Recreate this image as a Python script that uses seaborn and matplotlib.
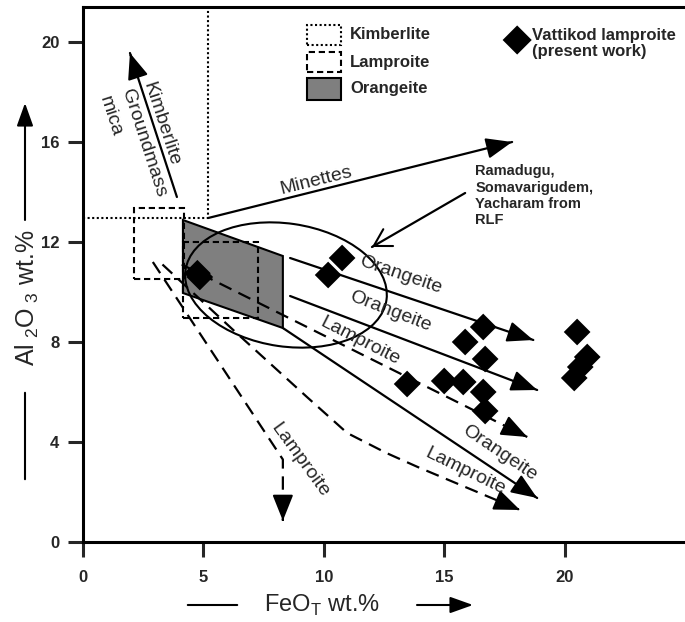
import matplotlib
matplotlib.use('Agg')
import matplotlib.pyplot as plt
from matplotlib.patches import Polygon, Rectangle, Ellipse
import seaborn as sns

sns.set_style('white')
plt.rcParams['font.family'] = ['Liberation Sans', 'DejaVu Sans']

# Vattikod lamproite samples (present work)
feo = [4.75, 4.85, 10.18, 10.76, 16.62, 15.87, 16.7, 13.46, 15.0, 15.79, 16.62, 16.7,
       20.52, 20.94, 20.65, 20.4]
al2o3 = [10.75, 10.6, 10.68, 11.36, 8.6, 8.0, 7.32, 6.32, 6.44, 6.4, 6.0, 5.24,
         8.4, 7.4, 7.0, 6.56]

# fields
orangeite_x = [4.15, 8.3, 8.3, 4.15]
orangeite_y = [12.88, 11.44, 8.56, 9.96]
lamp_box1 = [2.1, 4.2, 10.5, 13.35]   # xmin, xmax, ymin, ymax
lamp_box2 = [4.15, 7.27, 8.96, 12.0]
kimb_x = [0, 5.2, 5.2]
kimb_y = [12.96, 12.96, 21.4]
ellipse_xy = (8.43, 10.28)
ellipse_wh = (8.43, 4.92)

# trends
orang1_x, orang1_y = [8.6, 18.7], [11.36, 8.08]
orang2_x, orang2_y = [8.6, 18.86], [9.84, 6.08]
orang3_x, orang3_y = [8.3, 18.86], [8.56, 1.76]
lamp1_x, lamp1_y = [4.1, 18.45], [11.1, 4.2]
lamp2_x = [3.3, 6.24, 9.3, 10.97, 12.6, 13.9, 18.15]
lamp2_y = [11.1, 8.48, 5.8, 4.36, 3.56, 3.0, 1.28]
lamp3_x, lamp3_y = [2.9, 8.3, 8.3], [11.2, 3.3, 0.85]
minette_x, minette_y = [5.2, 17.82], [12.96, 16.0]
mica_x, mica_y = [3.9, 1.95], [13.8, 19.56]
rlf_x, rlf_y = [15.87, 12.0], [13.96, 11.8]

fig = plt.figure(figsize=(6.85, 6.22), dpi=100)
ax = fig.add_axes([83 / 685, 80 / 622, 602 / 685, 535 / 622])
ax.set_xlim(0, 25)
ax.set_ylim(0, 21.4)

ax.add_patch(Polygon(list(zip(orangeite_x, orangeite_y)), closed=True,
                     facecolor='#7f7f7f', edgecolor='black', lw=1.5, zorder=1))
for b in (lamp_box1, lamp_box2):
    ax.add_patch(Rectangle((b[0], b[2]), b[1] - b[0], b[3] - b[2], fill=False,
                           edgecolor='black', lw=1.5, linestyle=(0, (3, 1.8)), zorder=2))
sns.lineplot(x=kimb_x, y=kimb_y, sort=False, estimator=None, color='black', lw=1.5,
             linestyle=(0, (1, 1.2)), ax=ax)
ax.add_patch(Ellipse(ellipse_xy, ellipse_wh[0], ellipse_wh[1], angle=-8, fill=False,
                     edgecolor='black', lw=1.5, zorder=2))


def trend(xs, ys, ls='-', head='-|>,head_length=0.8,head_width=0.32'):
    sns.lineplot(x=xs, y=ys, sort=False, estimator=None, color='black', lw=1.6,
                 linestyle=ls, ax=ax)
    x0 = xs[-1] - 0.02 * (xs[-1] - xs[-2])
    y0 = ys[-1] - 0.02 * (ys[-1] - ys[-2])
    ax.annotate('', xy=(xs[-1], ys[-1]), xytext=(x0, y0),
                arrowprops=dict(arrowstyle=head, color='black', lw=1.5,
                                shrinkA=0, shrinkB=0, mutation_scale=20))


dash = (0, (6, 3.5))
trend(orang1_x, orang1_y)
trend(orang2_x, orang2_y)
trend(orang3_x, orang3_y)
trend(lamp1_x, lamp1_y, dash)
trend(lamp2_x, lamp2_y, dash)
trend(lamp3_x, lamp3_y, dash)
trend(minette_x, minette_y)
trend(mica_x, mica_y)
trend(rlf_x, rlf_y, head='->,head_length=0.6,head_width=0.35')

sns.scatterplot(x=feo, y=al2o3, marker='D', s=185, color='black', edgecolor='none',
                ax=ax, zorder=5)

lab = dict(fontsize=14, ha='center', va='center', rotation_mode='anchor')
ax.text(13.17, 10.68, 'Orangeite', rotation=-19, **lab)
ax.text(12.75, 9.24, 'Orangeite', rotation=-21, **lab)
ax.text(11.5, 8.04, 'Lamproite', rotation=-27, **lab)
ax.text(17.32, 3.56, 'Orangeite', rotation=-34, **lab)
ax.text(15.87, 2.84, 'Lamproite', rotation=-26, **lab)
ax.text(9.0, 3.28, 'Lamproite', rotation=-54, **lab)
ax.text(9.68, 14.45, 'Minettes', rotation=14, **lab)
ax.text(2.5, 15.95, 'Kimberlite\nGroundmass\nmica', rotation=-72, multialignment='left',
        linespacing=1.45, **lab)

ax.text(16.29, 15.1, 'Ramadugu,\nSomavarigudem,\nYacharam from\nRLF', fontsize=10.5,
        fontweight='bold', ha='left', va='top', linespacing=1.2)

# legend
ax.add_patch(Rectangle((9.3, 19.88), 1.42, 0.8, fill=False, edgecolor='black', lw=1.5,
                       linestyle=(0, (1, 1.2))))
ax.add_patch(Rectangle((9.3, 18.8), 1.42, 0.8, fill=False, edgecolor='black', lw=1.5,
                       linestyle=(0, (3, 1.8))))
ax.add_patch(Rectangle((9.3, 17.68), 1.42, 0.88, facecolor='#7f7f7f', edgecolor='black',
                       lw=1.5))
for yy, t in [(20.28, 'Kimberlite'), (19.2, 'Lamproite'), (18.12, 'Orangeite')]:
    ax.text(11.09, yy, t, fontsize=12, fontweight='bold', ha='left', va='center')
ax.scatter([18.03], [20.08], marker='D', s=220, color='black', edgecolor='none')
ax.text(18.65, 19.95, 'Vattikod lamproite\n(present work)', fontsize=12, fontweight='bold',
        ha='left', va='center', linespacing=1.05)

# axes styling
ax.set_xticks([0, 5, 10, 15, 20])
ax.set_yticks([0, 4, 8, 12, 16, 20])
ax.tick_params(direction='out', length=11, width=2.2, labelsize=12, pad=6,
               left=True, bottom=True)
for t in ax.get_xticklabels() + ax.get_yticklabels():
    t.set_fontweight('bold')
ax.tick_params(axis='x', pad=9)
for s in ['left', 'bottom', 'top']:
    ax.spines[s].set_linewidth(2.2)
    ax.spines[s].set_color('black')
ax.spines['right'].set_visible(False)

ax.set_xlabel(r'FeO$_{\mathregular{T}}$ wt.%', fontsize=17, va='center')
ax.xaxis.set_label_coords(0.397, -0.118)
ax.set_ylabel(r'Al$_{\mathregular{\ 2}}$O$_{\mathregular{\ 3}}$ wt.%', fontsize=18,
              va='center')
ax.yaxis.set_label_coords(-0.092, 0.456)

# arrows beside the axis titles
kw = dict(xycoords='figure pixels', textcoords='figure pixels', annotation_clip=False)
ax.annotate('', xy=(240, 17), xytext=(185, 17),
            arrowprops=dict(arrowstyle='-', lw=1.5, color='black'), **kw)
ax.annotate('', xy=(473, 17), xytext=(417, 17),
            arrowprops=dict(arrowstyle='-|>,head_length=0.7,head_width=0.25', lw=1.5,
                            color='black', mutation_scale=20, shrinkA=0, shrinkB=0), **kw)
ax.annotate('', xy=(25, 232), xytext=(25, 140),
            arrowprops=dict(arrowstyle='-', lw=1.5, color='black'), **kw)
ax.annotate('', xy=(25, 519), xytext=(25, 402),
            arrowprops=dict(arrowstyle='-|>,head_length=0.7,head_width=0.25', lw=1.5,
                            color='black', mutation_scale=20, shrinkA=0, shrinkB=0), **kw)

fig.savefig('out.png', dpi=100)
